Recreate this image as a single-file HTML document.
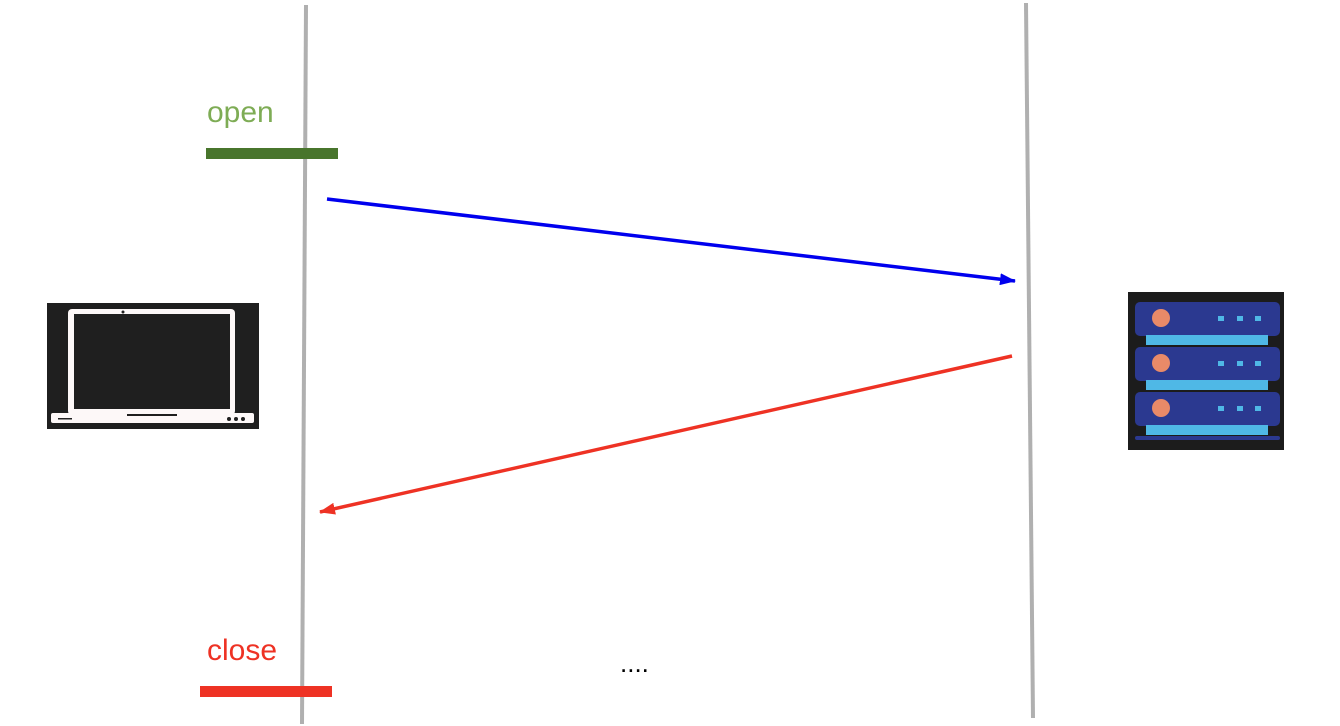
<!DOCTYPE html>
<html><head><meta charset="utf-8"><style>
html,body{margin:0;padding:0;background:#fff;}
svg{display:block;font-family:"Liberation Sans",sans-serif;}
</style></head><body>
<svg width="1340" height="726" viewBox="0 0 1340 726">
<defs>
<marker id="ab" markerWidth="16" markerHeight="12" refX="15" refY="6" orient="auto" markerUnits="userSpaceOnUse"><path d="M0,0 L16,6 L0,12 z" fill="#0000ee"/></marker>
<marker id="ar" markerWidth="16" markerHeight="12" refX="15" refY="6" orient="auto" markerUnits="userSpaceOnUse"><path d="M0,0 L16,6 L0,12 z" fill="#ee3224"/></marker>
</defs>
<line x1="306" y1="5" x2="302" y2="724" stroke="#b0b0b0" stroke-width="4"/>
<line x1="1026" y1="3" x2="1033" y2="718" stroke="#b0b0b0" stroke-width="4"/>
<text x="207" y="122" font-size="30" fill="#7eac55">open</text>
<rect x="206" y="148" width="132" height="11" fill="#48752c"/>
<line x1="327" y1="199" x2="1015" y2="281" stroke="#0000ee" stroke-width="3.5" marker-end="url(#ab)"/>
<line x1="1012" y1="356" x2="320" y2="512" stroke="#ee3224" stroke-width="3.5" marker-end="url(#ar)"/>
<text x="207" y="660" font-size="30" fill="#ee3224">close</text>
<rect x="200" y="686" width="132" height="11" fill="#ee3224"/>
<text x="620" y="672" font-size="26" fill="#000">....</text>
<g>
<rect x="47" y="303" width="212" height="126" fill="#1f1f1f"/>
<rect x="68" y="309" width="167" height="106" rx="4" fill="#fdf8f8"/>
<rect x="74" y="314" width="156" height="95" fill="#1f1f1f"/>
<circle cx="123" cy="312" r="1.5" fill="#1f1f1f"/>
<rect x="51" y="413" width="203" height="10" rx="2" fill="#fdf8f8"/>
<rect x="127" y="414" width="50" height="2" fill="#1f1f1f"/>
<rect x="58" y="418" width="14" height="1.5" fill="#1f1f1f"/>
<circle cx="229" cy="419" r="2" fill="#1f1f1f"/><circle cx="236" cy="419" r="2" fill="#1f1f1f"/><circle cx="243" cy="419" r="2" fill="#1f1f1f"/>
</g>
<g>
<rect x="1128" y="292" width="156" height="158" fill="#1c1c1c"/>
<g>
<rect x="1135" y="302" width="145" height="34" rx="5" fill="#2b3990"/>
<rect x="1146" y="335" width="122" height="10" fill="#4fb8e6"/>
<circle cx="1161" cy="318" r="9" fill="#e98a68"/>
<rect x="1218" y="316" width="6" height="5" fill="#4fb8e6"/><rect x="1237" y="316" width="6" height="5" fill="#4fb8e6"/><rect x="1255" y="316" width="6" height="5" fill="#4fb8e6"/>
</g>
<g>
<rect x="1135" y="347" width="145" height="34" rx="5" fill="#2b3990"/>
<rect x="1146" y="380" width="122" height="10" fill="#4fb8e6"/>
<circle cx="1161" cy="363" r="9" fill="#e98a68"/>
<rect x="1218" y="361" width="6" height="5" fill="#4fb8e6"/><rect x="1237" y="361" width="6" height="5" fill="#4fb8e6"/><rect x="1255" y="361" width="6" height="5" fill="#4fb8e6"/>
</g>
<g>
<rect x="1135" y="392" width="145" height="34" rx="5" fill="#2b3990"/>
<rect x="1146" y="425" width="122" height="10" fill="#4fb8e6"/>
<circle cx="1161" cy="408" r="9" fill="#e98a68"/>
<rect x="1218" y="406" width="6" height="5" fill="#4fb8e6"/><rect x="1237" y="406" width="6" height="5" fill="#4fb8e6"/><rect x="1255" y="406" width="6" height="5" fill="#4fb8e6"/>
</g>
<rect x="1135" y="436" width="145" height="4" rx="2" fill="#2b3990"/>
</g>
</svg>
</body></html>
